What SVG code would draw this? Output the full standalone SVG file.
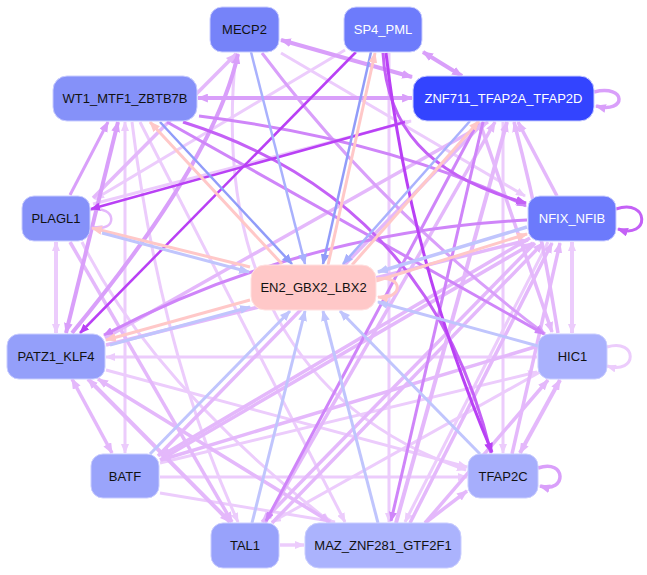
<svg xmlns="http://www.w3.org/2000/svg" width="647" height="575" viewBox="0 0 647 575">
<style>
.n text{font-family:"Liberation Sans",Arial,sans-serif;font-size:13px;text-anchor:middle}
.w{fill:#ffffff}.k{fill:#111111}
#edges path{fill:none}
.a{stroke:#ecccfc;stroke-width:3;marker-end:url(#ma)}
.b{stroke:#e4b8fb;stroke-width:3.5;marker-end:url(#mb)}
.c{stroke:#d99ffa;stroke-width:3.5;marker-end:url(#mc)}
.d{stroke:#cf85f9;stroke-width:3;marker-end:url(#md)}
.e{stroke:#c461f6;stroke-width:3;marker-end:url(#me)}
.f{stroke:#b940f5;stroke-width:2.5;marker-end:url(#mf)}
.bl1{stroke:#a9b1fd;stroke-width:2.5;marker-end:url(#mbl1)}
.bl2{stroke:#919cf9;stroke-width:2.5;marker-end:url(#mbl2)}
.bl3{stroke:#c0c5fd;stroke-width:3;marker-end:url(#mbl3)}
.p{stroke:#ffc8c8;stroke-width:3;marker-end:url(#mp)}
.sa{marker-start:url(#ma)}.sb{marker-start:url(#mb)}.sc{marker-start:url(#mc)}
</style>
<defs>
<marker id="ma" viewBox="0 0 10 8" refX="9" refY="4" markerWidth="10" markerHeight="8" markerUnits="userSpaceOnUse" orient="auto-start-reverse"><path d="M0,0 L10,4 L0,8 z" fill="#ecccfc"/></marker>
<marker id="mb" viewBox="0 0 10 8" refX="9" refY="4" markerWidth="11" markerHeight="9" markerUnits="userSpaceOnUse" orient="auto-start-reverse"><path d="M0,0 L10,4 L0,8 z" fill="#e4b8fb"/></marker>
<marker id="mc" viewBox="0 0 10 8" refX="9" refY="4" markerWidth="11" markerHeight="9" markerUnits="userSpaceOnUse" orient="auto-start-reverse"><path d="M0,0 L10,4 L0,8 z" fill="#d99ffa"/></marker>
<marker id="md" viewBox="0 0 10 8" refX="9" refY="4" markerWidth="10" markerHeight="8" markerUnits="userSpaceOnUse" orient="auto-start-reverse"><path d="M0,0 L10,4 L0,8 z" fill="#cf85f9"/></marker>
<marker id="me" viewBox="0 0 10 8" refX="9" refY="4" markerWidth="11" markerHeight="9" markerUnits="userSpaceOnUse" orient="auto-start-reverse"><path d="M0,0 L10,4 L0,8 z" fill="#c461f6"/></marker>
<marker id="mf" viewBox="0 0 10 8" refX="9" refY="4" markerWidth="10" markerHeight="8" markerUnits="userSpaceOnUse" orient="auto-start-reverse"><path d="M0,0 L10,4 L0,8 z" fill="#b940f5"/></marker>
<marker id="mbl1" viewBox="0 0 10 8" refX="9" refY="4" markerWidth="11" markerHeight="9" markerUnits="userSpaceOnUse" orient="auto"><path d="M0,0 L10,4 L0,8 z" fill="#a9b1fd"/></marker>
<marker id="mbl2" viewBox="0 0 10 8" refX="9" refY="4" markerWidth="11" markerHeight="9" markerUnits="userSpaceOnUse" orient="auto"><path d="M0,0 L10,4 L0,8 z" fill="#919cf9"/></marker>
<marker id="mbl3" viewBox="0 0 10 8" refX="9" refY="4" markerWidth="11" markerHeight="9" markerUnits="userSpaceOnUse" orient="auto"><path d="M0,0 L10,4 L0,8 z" fill="#c0c5fd"/></marker>
<marker id="mp" viewBox="0 0 10 8" refX="9" refY="4" markerWidth="11" markerHeight="9" markerUnits="userSpaceOnUse" orient="auto"><path d="M0,0 L10,4 L0,8 z" fill="#ffc8c8"/></marker>
</defs>
<rect width="647" height="575" fill="#ffffff"/>
<g id="edges">
<path class="a" d="M345,50 L95,199"/>
<path class="a" d="M93,204 L411,121"/>
<path class="a" d="M281,53 L525,196"/>
<path class="a" d="M236,53 C214,260 290,410 466,470"/>
<path class="a sa" d="M56,242 L56,333" style="stroke-width:4"/>
<path class="a sa" d="M572,242 L572,333" style="stroke-width:4"/>
<path class="a" d="M537,357 L106,357"/>
<path class="a" d="M280,545 L304,545" style="stroke-width:3.5"/>
<path class="a" d="M389,53 L389,522"/>
<path class="a" d="M503,122 L503,453"/>
<path class="a sa" d="M125,122 L125,453"/>
<path class="a" d="M82,242 Q150,380 330,522"/>
<path class="a" d="M160,477 L467,477"/>
<path class="a" d="M160,463 L537,372"/>
<path class="a" d="M160,493 L335,522"/>
<path class="a" d="M106,370 L467,467"/>
<path class="a" d="M607,347 C638,338 638,375 607,366"/>
<path class="a" d="M548,242 L405,522"/>
<path class="a" d="M540,372 L272,522"/>
<path class="a" d="M140,122 L345,522"/>
<path class="a" d="M132,122 Q160,350 238,522"/>
<path class="b" d="M93,198 L236,54"/>
<path class="b" d="M557,196 L518,122"/>
<path class="b sb" d="M72,379 L112,453"/>
<path class="b sb" d="M88,379 L230,522" style="stroke-width:4"/>
<path class="b sb" d="M98,379 L330,522"/>
<path class="b" d="M425,523 L467,491"/>
<path class="b sb" d="M520,453 L560,380" style="stroke-width:4"/>
<path class="b" d="M106,345 L528,240"/>
<path class="b" d="M105,338 L488,122"/>
<path class="b" d="M160,460 L533,243"/>
<path class="b" d="M158,456 L484,122"/>
<path class="b" d="M265,523 L495,122"/>
<path class="b" d="M272,523 L543,243"/>
<path class="b" d="M396,523 L507,122" style="stroke-width:4"/>
<path class="b" d="M410,523 L552,243"/>
<path class="b" d="M425,523 L548,380"/>
<path class="b" d="M512,454 L560,243"/>
<path class="b" d="M558,333 Q540,220 514,122"/>
<path class="b" d="M538,346 L161,460"/>
<path class="b" d="M530,238 L161,456"/>
<path class="b" d="M535,243 L262,522"/>
<path class="b" d="M70,242 L232,522"/>
<path class="b" d="M90,210 C118,204 118,234 92,227" style="stroke-width:2.5"/>
<path class="b" d="M480,123 L552,332"/>
<path class="c sc" d="M281,40 L412,77" style="stroke-width:4"/>
<path class="c sc" d="M423,52 L462,76" style="stroke-width:4"/>
<path class="c sc" d="M198,98 L412,98" style="stroke-width:4"/>
<path class="c" d="M594,92 C627,84 627,114 596,106"/>
<path class="c" d="M538,468 C567,458 567,494 540,486"/>
<path class="c" d="M72,333 Q215,160 238,54" style="stroke-width:4"/>
<path class="c sc" d="M66,333 L118,122" style="stroke-width:4"/>
<path class="c" d="M262,53 Q380,210 545,334" style="stroke-width:3"/>
<path class="c" d="M70,195 L108,122" style="stroke-width:3"/>
<path class="d" d="M167,122 L544,334"/>
<path class="d" d="M199,116 Q390,140 526,206"/>
<path class="d" d="M478,122 L266,521"/>
<path class="d" d="M483,122 L391,521"/>
<path class="d" d="M527,220 Q300,232 104,335"/>
<path class="e" d="M383,53 C387,125 425,175 526,203"/>
<path class="e" d="M183,122 Q430,200 491,453"/>
<path class="e" d="M616,209 C650,198 650,240 618,229"/>
<path class="f" d="M356,52 L80,333"/>
<path class="f" d="M405,122 L91,209"/>
<path class="f" d="M386,53 Q410,260 492,452" style="stroke-width:3"/>
<path class="bl1" d="M251,52 L305,264"/>
<path class="bl2" d="M371,52 L323,264"/>
<path class="p" d="M328,265 L375,53"/>
<path class="p" d="M282,264 L150,122"/>
<path class="bl2" d="M160,122 L292,264"/>
<path class="bl1" d="M470,121 L343,264"/>
<path class="p" d="M352,265 L479,121"/>
<path class="p" d="M250,267 L92,228"/>
<path class="bl3" d="M102,233 L249,272"/>
<path class="p" d="M376,281 L527,234"/>
<path class="bl3" d="M527,227 L378,272" style="stroke-width:3.5"/>
<path class="p" d="M250,300 L106,340"/>
<path class="bl3" d="M110,345 L250,307"/>
<path class="bl3" d="M538,346 L378,302"/>
<path class="bl3" d="M150,454 L290,311"/>
<path class="bl3" d="M252,523 L305,311"/>
<path class="bl3" d="M378,523 L323,311"/>
<path class="bl3" d="M480,454 L340,311"/>
<path class="p" d="M376,279 C404,274 404,300 378,297"/>
</g>
<g id="MECP2" class="n"><rect x="210" y="7" width="69" height="45" rx="12" fill="#7683f9" stroke="#c9cdff"/><text class="k" x="244.5" y="34">MECP2</text></g>
<g id="SP4_PML" class="n"><rect x="344" y="7" width="78" height="45" rx="12" fill="#6d7bfb" stroke="#c9cdff"/><text class="w" x="383" y="34">SP4_PML</text></g>
<g id="WT1_MTF1_ZBTB7B" class="n"><rect x="53" y="76" width="144" height="45" rx="14" fill="#8591f9" stroke="#c9cdff"/><text class="k" x="125" y="103">WT1_MTF1_ZBTB7B</text></g>
<g id="ZNF711_TFAP2A_TFAP2D" class="n"><rect x="413" y="76" width="181" height="45" rx="14" fill="#3344ff" stroke="#c9cdff"/><text class="w" x="503.5" y="103">ZNF711_TFAP2A_TFAP2D</text></g>
<g id="PLAGL1" class="n"><rect x="22" y="196" width="68" height="45" rx="12" fill="#8591f9" stroke="#c9cdff"/><text class="k" x="56" y="223">PLAGL1</text></g>
<g id="NFIX_NFIB" class="n"><rect x="528" y="196" width="88" height="45" rx="12" fill="#6c7afc" stroke="#c9cdff"/><text class="w" x="572" y="223">NFIX_NFIB</text></g>
<g id="EN2_GBX2_LBX2" class="n"><rect x="251" y="265" width="125" height="45" rx="14" fill="#ffc8c8" stroke="#ffe0e0"/><text class="k" x="313.5" y="292">EN2_GBX2_LBX2</text></g>
<g id="PATZ1_KLF4" class="n"><rect x="7" y="334" width="98" height="45" rx="12" fill="#949ffa" stroke="#c9cdff"/><text class="k" x="56" y="361">PATZ1_KLF4</text></g>
<g id="HIC1" class="n"><rect x="538" y="334" width="69" height="45" rx="12" fill="#a9b1fd" stroke="#c9cdff"/><text class="k" x="572.5" y="361">HIC1</text></g>
<g id="BATF" class="n"><rect x="91" y="454" width="68" height="44" rx="12" fill="#9aa4fb" stroke="#c9cdff"/><text class="k" x="125" y="480.5">BATF</text></g>
<g id="TFAP2C" class="n"><rect x="468" y="454" width="70" height="44" rx="12" fill="#a6aefc" stroke="#c9cdff"/><text class="k" x="503" y="480.5">TFAP2C</text></g>
<g id="TAL1" class="n"><rect x="211" y="523" width="68" height="45" rx="12" fill="#98a2fb" stroke="#c9cdff"/><text class="k" x="245" y="550">TAL1</text></g>
<g id="MAZ_ZNF281_GTF2F1" class="n"><rect x="305" y="523" width="156" height="45" rx="14" fill="#abb3fd" stroke="#c9cdff"/><text class="k" x="383" y="550">MAZ_ZNF281_GTF2F1</text></g>
</svg>
